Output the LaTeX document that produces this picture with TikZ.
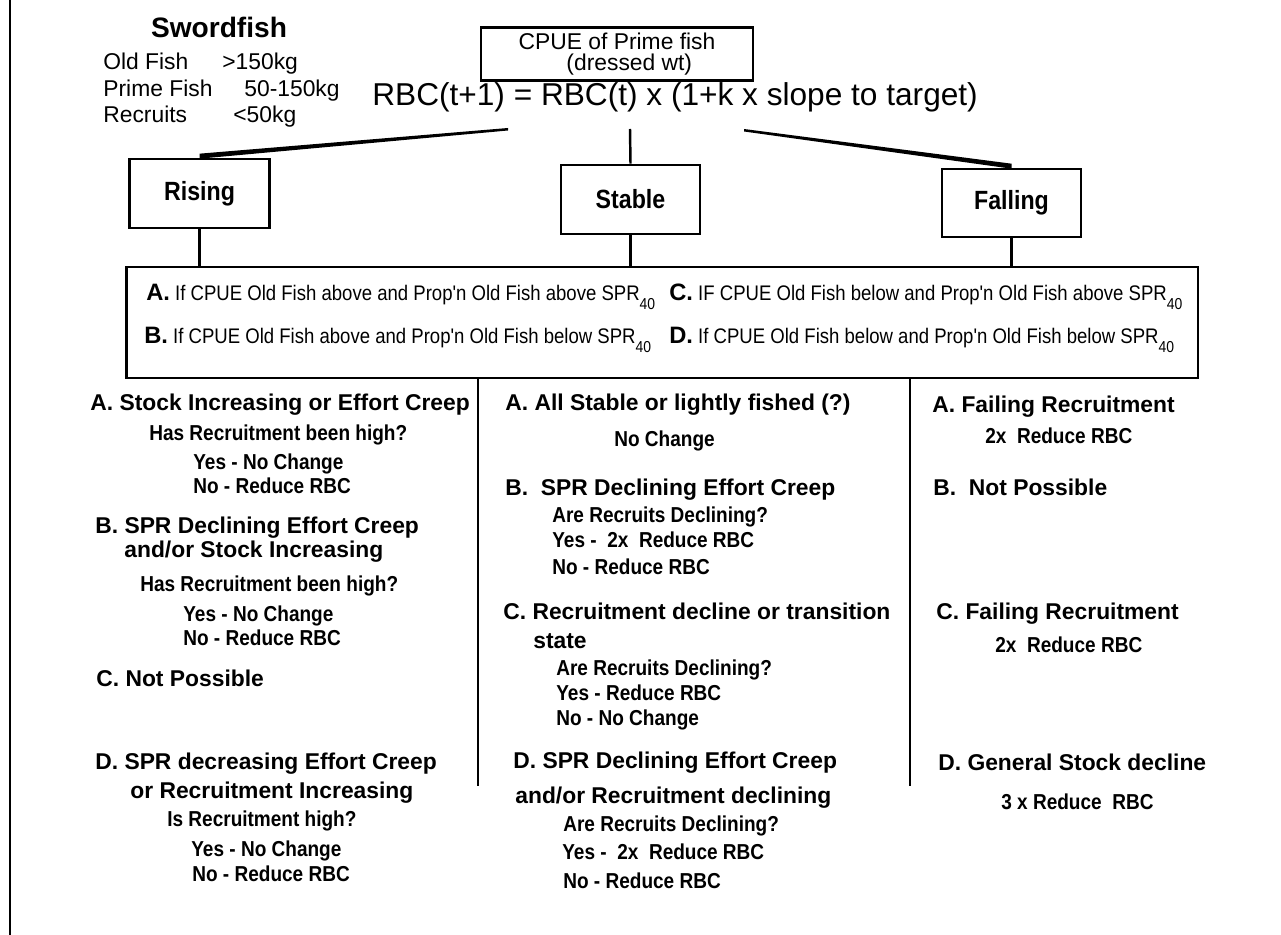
\documentclass[tikz,border=0pt]{standalone}
\usepackage{fontspec}
\setmainfont{Liberation Sans}
\newfontfamily\narrow[FakeStretch=0.88]{Liberation Sans}
\usetikzlibrary{positioning,calc}
\newcommand{\sprf}{SPR\raisebox{-5pt}{\fontsize{9}{9}\selectfont 40}}
\newcommand{\lett}[1]{{\normalfont\bfseries\fontsize{13.5}{15}\selectfont #1}}

\tikzset{
  stagebox/.style={draw,line width=1.5pt,minimum width=2.8cm,minimum height=1.38cm,
    font=\narrow\bfseries\fontsize{15}{17}\selectfont},
  hd/.style={anchor=base west,inner sep=0pt,font=\bfseries\fontsize{13}{15}\selectfont},
  sub/.style={anchor=base west,inner sep=0pt,font=\narrow\bfseries\fontsize{12.3}{14}\selectfont},
  cond/.style={anchor=west,inner sep=0pt,font=\narrow\fontsize{12}{14}\selectfont},
  key/.style={anchor=base west,inner sep=0pt,font=\fontsize{13}{15}\selectfont},
}

\begin{document}
\begin{tikzpicture}[x=0.02cm,y=-0.02cm]
    \fill[white] (0,0) rectangle (1281,935);
    \useasboundingbox (0,0) rectangle (1281,935);
    \draw[line width=1.2pt] (10,0) -- (10,935);

    % size classes
    \node[font=\bfseries\fontsize{16}{18}\selectfont] (sw) at (219,27) {Swordfish};
    \node[key] (oldf) at (103,70) {Old Fish};
    \node[key] (oldv) at (222,70) {>150kg};
    \node[key] (primef) at (103,97) {Prime Fish};
    \node[key] (primev) at (244,97) {50-150kg};
    \node[key] (recf) at (103,123) {Recruits};
    \node[key] (recv) at (233,123) {<50kg};

    \node[draw,line width=1.2pt,minimum width=5.44cm,minimum height=1.06cm,inner sep=0pt,
      align=center,font=\fontsize{13}{11.5}\selectfont] (cpue) at (617,54)
      {CPUE of Prime fish\\\hspace*{14pt}(dressed wt)};
    \node[anchor=west,inner sep=0pt,font=\fontsize{18}{20}\selectfont] (rule) at (372,97)
      {RBC(t+1) = RBC(t) x (1+k x slope to target)};

    \node[stagebox] (rising) at (199.5,193.5) {Rising};
    \node[stagebox,minimum width=2.78cm] (stable) at (630.5,199.5) {Stable};
    \node[stagebox,minimum width=2.78cm,minimum height=1.36cm] (falling) at (1011.5,203) {Falling};

    \coordinate (ls) at (508,129);
    \coordinate (ms) at (630,129);
    \coordinate (rs) at (744,130);
    \fill ($(ls)+(0,-1)$) -- ($(ls)+(0,1.5)$) -- ($(rising.north)+(0,1)$) -- ($(rising.north)+(0,-4)$) -- cycle;
    \draw[line width=1.4pt] (ms) -- (stable.north);
    \fill ($(rs)+(0,-1)$) -- ($(rs)+(0,1.5)$) -- ($(falling.north)+(0,1)$) -- ($(falling.north)+(0,-4)$) -- cycle;

    % criteria box
    \node[draw,line width=1.6pt,minimum width=21.44cm,minimum height=2.22cm] (crit) at (662,322.5) {};
    \node[cond] (ca) at (146,297) {\lett{A.} If CPUE Old Fish above and Prop'n Old Fish above \sprf};
    \node[cond] (cb) at (144,340) {\lett{B.} If CPUE Old Fish above and Prop'n Old Fish below \sprf};
    \node[cond] (cc) at (669,297) {\lett{C.} IF CPUE Old Fish below and Prop'n Old Fish above \sprf};
    \node[cond] (cd) at (669,340) {\lett{D.} If CPUE Old Fish below and Prop'n Old Fish below \sprf};

    \draw[line width=1.3pt] (rising.south) -- (rising.south |- crit.north);
    \draw[line width=1.3pt] (stable.south) -- (stable.south |- crit.north);
    \draw[line width=1.3pt] (falling.south) -- (falling.south |- crit.north);

    \coordinate (d1) at (478,786);
    \coordinate (d2) at (910,786);
    \draw[line width=1.6pt] (d1 |- crit.south) -- (d1);
    \draw[line width=1.6pt] (d2 |- crit.south) -- (d2);

    % rising
    \node[hd] (ra) at (90,411) {A. Stock Increasing or Effort Creep};
    \node[sub] (raq) at (149,441) {Has Recruitment been high?};
    \node[sub] (ray) at (193,470) {Yes - No Change};
    \node[sub] (ran) at (193,494) {No - Reduce RBC};
    \node[hd] (rb) at (95,534) {B. SPR Declining Effort Creep};
    \node[hd] (rb2) at (124,558) {and/or Stock Increasing};
    \node[sub] (rbq) at (140,591) {Has Recruitment been high?};
    \node[sub] (rby) at (183,621) {Yes - No Change};
    \node[sub] (rbn) at (183,645) {No - Reduce RBC};
    \node[hd] (rc) at (96,686) {C. Not Possible};
    \node[hd] (rd) at (95,769) {D. SPR decreasing Effort Creep};
    \node[hd] (rd2) at (130,798) {or Recruitment Increasing};
    \node[sub] (rdq) at (167,826) {Is Recruitment high?};
    \node[sub] (rdy) at (191,856) {Yes - No Change};
    \node[sub] (rdn) at (192,881) {No - Reduce RBC};

    % stable
    \node[hd] (sa) at (505,411) {A. All Stable or lightly fished (?)};
    \node[sub] (san) at (614,447) {No Change};
    \node[hd] (sb) at (505,496) {B.\ \ SPR Declining Effort Creep};
    \node[sub] (sbq) at (552,522) {Are Recruits Declining?};
    \node[sub] (sby) at (552,547) {Yes - \ 2x \ Reduce RBC};
    \node[sub] (sbn) at (552,574) {No - Reduce RBC};
    \node[hd] (sc) at (503,619) {C. Recruitment decline or transition};
    \node[hd] (sc2) at (533,648) {state};
    \node[sub] (scq) at (556,675) {Are Recruits Declining?};
    \node[sub] (scy) at (556,700) {Yes - Reduce RBC};
    \node[sub] (scn) at (556,725) {No - No Change};
    \node[hd] (sd) at (513,768) {D. SPR Declining Effort Creep};
    \node[hd] (sd2) at (515,803) {and/or Recruitment declining};
    \node[sub] (sdq) at (563,831) {Are Recruits Declining?};
    \node[sub] (sdy) at (562,859) {Yes - \ 2x \ Reduce RBC};
    \node[sub] (sdn) at (563,888) {No - Reduce RBC};

    % falling
    \node[hd] (fa) at (932,413) {A. Failing Recruitment};
    \node[sub] (fan) at (985,444) {2x \ Reduce RBC};
    \node[hd] (fb) at (933,496) {B.\ \ Not Possible};
    \node[hd] (fc) at (936,619) {C. Failing Recruitment};
    \node[sub] (fcn) at (995,652) {2x \ Reduce RBC};
    \node[hd] (fd) at (938,770) {D. General Stock decline};
    \node[sub] (fdn) at (1001,809) {3 x Reduce \ RBC};
\end{tikzpicture}
\end{document}
